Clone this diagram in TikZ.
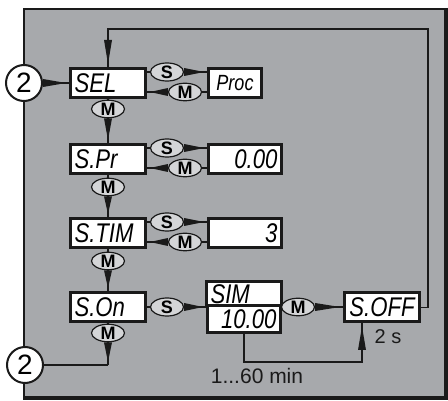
\documentclass[tikz,border=0pt]{standalone}
\usepackage{fontspec}
\setmainfont{Liberation Sans}
\newfontfamily\lcdfont{Liberation Sans Italic}[FakeStretch=0.82]
\usetikzlibrary{shapes.geometric,calc}
\definecolor{panel}{HTML}{A7A9AC}
\definecolor{keyfill}{HTML}{D4D5D7}
\definecolor{ink}{HTML}{1A1A1A}
\newcommand\wedgeconn[2]{%
  \draw[conn] (#1) -- (#2);
  \fill[ink] ($(#1)!4pt!90:(#2)$) -- ($(#2)!3pt!(#1)$) -- ($(#1)!4pt!-90:(#2)$) -- cycle;}
\begin{document}
\begin{tikzpicture}[x=1pt,y=-1pt,
  conn/.style={draw=ink, line width=1.3pt},
  lcd/.style={draw=ink, fill=white, line width=3pt, minimum height=29pt, inner xsep=4pt, inner ysep=0pt,
    text height=19pt, text depth=0pt, font=\lcdfont\fontsize{27}{27}\selectfont},
  key/.style={ellipse, draw=ink, line width=1.2pt, fill=keyfill, inner sep=0pt,
    minimum width=33pt, minimum height=17pt, font=\bfseries\fontsize{18}{18}\selectfont},
  marker/.style={circle, draw=ink, line width=2pt, fill=white, minimum size=36pt, inner sep=0pt,
    font=\fontsize{28}{28}\selectfont},
  note/.style={font=\fontsize{21}{21}\selectfont, inner sep=0pt, text=ink}]
\useasboundingbox (0,0) rectangle (448,401);
% panel
\fill[panel] (24,9) rectangle (445,398);
\draw[ink, line width=1.3pt] (24,398) -- (24,9) -- (445,9);
\draw[ink, line width=4pt] (445.5,8) -- (445.5,398) -- (23,398);
% displays
\node[marker] (two1) at (24,83) {2};
\node[marker] (two2) at (25,365) {2};
\node[lcd, text width=67pt, align=left] (sel) at (108,83) {SEL};
\node[lcd, text width=45pt, align=center, text height=16pt, font=\lcdfont\fontsize{22}{22}\selectfont] (proc) at (235,83) {Proc};
\node[lcd, text width=67pt, align=left] (spr) at (108,159) {S.Pr};
\node[lcd, text width=65pt, align=right] (vspr) at (245,159) {0.00};
\node[lcd, text width=67pt, align=left] (stim) at (108,233) {S.TIM};
\node[lcd, text width=65pt, align=right] (vtim) at (245,233) {3};
\node[lcd, text width=67pt, align=left] (son) at (108,307) {S.On};
\node[lcd, text width=67pt, align=left, minimum height=24.5pt] (simA) at (244,293.75) {SIM};
\node[lcd, text width=65pt, align=right, minimum height=26.5pt] (simB) at (244,319.25) {10.00};
\node[lcd, text width=67pt, align=center] (soff) at (382,307.5) {S.OFF};
% keys
\node[key] (s1) at (167,72) {S};
\node[key] (m1) at (185,92) {M};
\node[key] (s2) at (167,148) {S};
\node[key] (m2) at (185,168) {M};
\node[key] (s3) at (167,222) {S};
\node[key] (m3) at (185,242) {M};
\node[key] (d1) at (108,109) {M};
\node[key] (d2) at (108,187) {M};
\node[key] (d3) at (108,261) {M};
\node[key] (d4) at (108,333) {M};
\node[key] (s4) at (167,307) {S};
\node[key] (m5) at (298,307) {M};
% texts
\node[note] (tmin) at (257,376) {1...60 min};
\node[note, font=\fontsize{20}{20}\selectfont] (tsec) at (388,337) {2 s};
% connectors
\wedgeconn{two1.east}{sel.west}
\draw[conn] (s1 -| sel.east) -- (s1.west); \wedgeconn{s1.east}{s1 -| proc.west}
\draw[conn] (m1 -| proc.west) -- (m1.east); \wedgeconn{m1.west}{m1 -| sel.east}
\draw[conn] (s2 -| spr.east) -- (s2.west); \wedgeconn{s2.east}{s2 -| vspr.west}
\draw[conn] (m2 -| vspr.west) -- (m2.east); \wedgeconn{m2.west}{m2 -| spr.east}
\draw[conn] (s3 -| stim.east) -- (s3.west); \wedgeconn{s3.east}{s3 -| vtim.west}
\draw[conn] (m3 -| vtim.west) -- (m3.east); \wedgeconn{m3.west}{m3 -| stim.east}
\draw[conn] (sel.south) -- (d1.north); \wedgeconn{d1.south}{spr.north}
\draw[conn] (spr.south) -- (d2.north); \wedgeconn{d2.south}{stim.north}
\draw[conn] (stim.south) -- (d3.north); \wedgeconn{d3.south}{son.north}
\draw[conn] (son.east) -- (s4.west); \wedgeconn{s4.east}{s4 -| simB.west}
\draw[conn] (s4 -| simB.east) -- (m5.west); \wedgeconn{m5.east}{m5 -| soff.west}
\coordinate (c2) at (108,365);
\draw[conn] (son.south) -- (d4.north); \wedgeconn{d4.south}{c2}
\draw[conn] (c2) -- (two2.east);
\coordinate (cr) at (362,362);
\coordinate (wb) at (362,350);
\draw[conn] (simB.south) |- (cr) -- (wb); \wedgeconn{wb}{cr |- soff.south}
\coordinate (tr) at (428,29);
\coordinate (lw) at (108,40);
\draw[conn] (soff.east) -| (tr) -| (lw); \wedgeconn{lw}{sel.north}
\end{tikzpicture}
\end{document}
